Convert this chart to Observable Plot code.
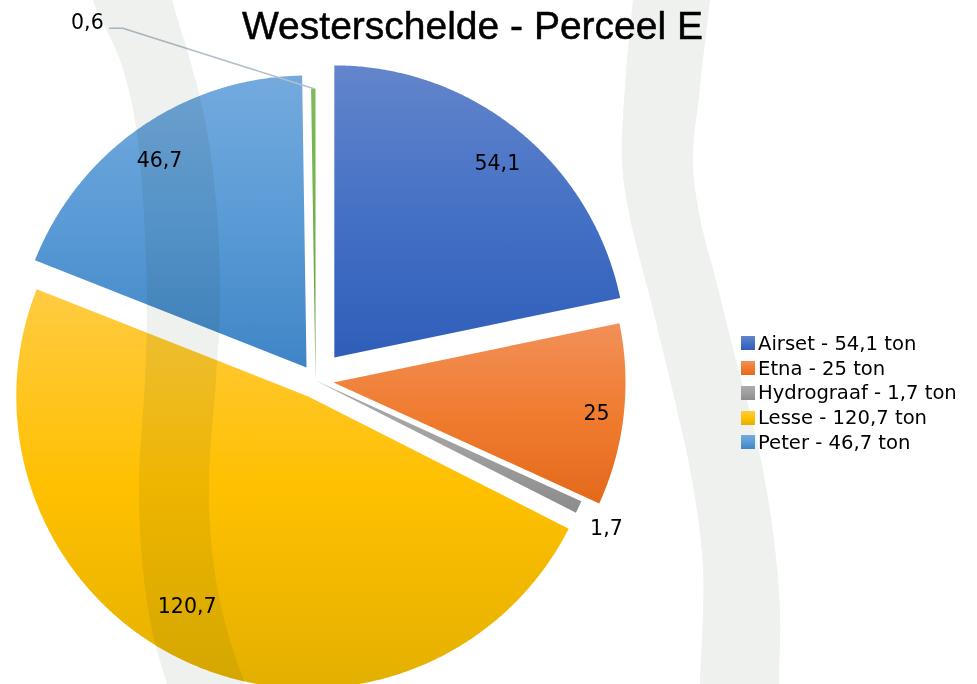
<!DOCTYPE html>
<html>
<head>
<meta charset="utf-8">
<script src="https://cdn.jsdelivr.net/npm/d3@7"></script>
<script src="https://cdn.jsdelivr.net/npm/@observablehq/plot@0.6"></script>
<style>
  html, body { margin: 0; padding: 0; background: #fff; }
  #wrap { position: relative; width: 977px; height: 684px; overflow: hidden; }
  #chart, #deco { position: absolute; left: 0; top: 0; }
  #deco { mix-blend-mode: multiply; pointer-events: none; }
  #title { position: absolute; left: 0; top: 6px; width: 945px; text-align: center;
           font-family: "Liberation Sans", Arial, sans-serif; font-size: 39px; line-height: 39px; color: #000;
           -webkit-text-stroke: 0.5px #000; }
  #legend { position: absolute; left: 741px; top: 331px; font-family: "DejaVu Sans", sans-serif;
            font-size: 19.6px; color: #000; }
  .row { display: flex; align-items: center; height: 24.75px; white-space: nowrap; }
  .sw { width: 14px; height: 14px; margin-right: 3px; flex: none; }
</style>
</head>
<body>
<div id="wrap">
  <div id="chart"></div>
  <svg id="deco" width="977" height="684"></svg>
  <div id="title"></div>
  <div id="legend"></div>
</div>
<script>
// ---- data ----
const title = "Westerschelde - Perceel E";
const categories = ["Airset", "Etna", "Hydrograaf", "Lesse", "Peter", "Overig"];
const values = [54.1, 25, 1.7, 120.7, 46.7, 0.6];
const legendCategories = ["Airset", "Etna", "Hydrograaf", "Lesse", "Peter"];
const unit = "ton";

// ---- styles / layout ----
const colorsTop    = ["#6385cb", "#f29058", "#ababab", "#ffcb42", "#74aade", "#80ba5c"];
const colorsMid    = ["#4571c5", "#f07c30", "#a0a0a0", "#ffc000", "#5a9bd6", "#70ad47"];
const colorsBottom = ["#2f5eb9", "#e4691b", "#8c8c8c", "#e3b000", "#3f85c6", "#5e9b37"];
const explode = [0.102, 0.062, 0, 0.06, 0.054, 0];
const labelRadius = [0.868, 0.907, 1.118, 0.829, 0.87, null];
const labelTurn = [0.9, 0.3, 1.3, 5.8, -0.7, 0]; // degrees
const leader = { r: 1.397, angle: -30.3, elbow: 0.045 };
const W = 977, H = 684, R = 292, cx = 315, cy = 380;

const fmt = v => String(v).replace(".", ",");
const rad = Math.PI / 180;
const polar = (r, a) => [r * Math.sin(a), -r * Math.cos(a)];

const arcs = d3.pie().sort(null).value(d => d)(values);

// slice outline points (in radius units), generated from the pie angles
const slicePoints = [];
const labels = [];
arcs.forEach((a, i) => {
  const mid = (a.startAngle + a.endAngle) / 2;
  const [ox, oy] = polar(explode[i], mid);
  const name = categories[i];
  const fill = `url(#slice-grad-${i})`;
  slicePoints.push({ name, fill, x: ox, y: oy });
  const n = Math.max(3, Math.ceil((a.endAngle - a.startAngle) / (0.4 * rad)));
  for (let k = 0; k <= n; k++) {
    const t = a.startAngle + (a.endAngle - a.startAngle) * k / n;
    const [px, py] = polar(1, t);
    slicePoints.push({ name, fill, x: ox + px, y: oy + py });
  }
  slicePoints.push({ name, fill, x: ox, y: oy });
  if (labelRadius[i] != null) {
    const [lx, ly] = polar(labelRadius[i], mid + labelTurn[i] * rad);
    labels.push({ text: fmt(values[i]), x: ox + lx, y: oy + ly });
  }
});

// leader line for the tiny slice
const small = arcs[5];
const smallMid = (small.startAngle + small.endAngle) / 2;
const [sx, sy] = polar(1, smallMid);
const [ex, ey] = polar(leader.r, leader.angle * rad);
const leaderPts = [
  { x: sx, y: sy },
  { x: ex + leader.elbow, y: ey },
  { x: ex, y: ey }
];
const leaderLabel = [{ text: fmt(values[5]), x: ex, y: ey }];

const chart = Plot.plot({
  width: W, height: H, margin: 0,
  x: { domain: [-cx / R, (W - cx) / R], range: [0, W], axis: null },
  y: { domain: [-cy / R, (H - cy) / R], range: [0, H], axis: null },
  color: { type: "identity" },
  style: { background: "transparent", overflow: "visible" },
  marks: [
    Plot.line(slicePoints, { x: "x", y: "y", z: "name", fill: "fill", stroke: null, curve: "linear" }),
    Plot.line(leaderPts, { x: "x", y: "y", stroke: "#b3bfcc", strokeWidth: 1.5, curve: "linear" }),
    Plot.text(labels, { x: "x", y: "y", text: "text", fontSize: 20.5, fontFamily: "DejaVu Sans", fill: "#000" }),
    Plot.text(leaderLabel, { x: "x", y: "y", text: "text", fontSize: 20.5, fontFamily: "DejaVu Sans", fill: "#000",
                             textAnchor: "end", dx: -6, dy: -6 })
  ]
});

// gradients for slices
const svg = d3.select(chart.tagName.toLowerCase() === "svg" ? chart : chart.querySelector("svg"));
const defs = svg.insert("defs", ":first-child");
categories.forEach((c, i) => {
  const g = defs.append("linearGradient").attr("id", `slice-grad-${i}`)
    .attr("x1", 0).attr("y1", 0).attr("x2", 0).attr("y2", 1);
  g.append("stop").attr("offset", 0).attr("stop-color", colorsTop[i]);
  g.append("stop").attr("offset", 0.5).attr("stop-color", colorsMid[i]);
  g.append("stop").attr("offset", 1).attr("stop-color", colorsBottom[i]);
});
document.getElementById("chart").appendChild(chart);

// decorative background bands (page styling, not data)
const bandL = [[93,0],[120,60],[135,120],[143,200],[147,300],[145,380],[139,480],[142,560],[152,630],[167,684],[172,700],
               [250,700],[245,684],[227,630],[213,560],[209,480],[216,380],[220,300],[216,200],[205,120],[190,60],[172,0],[170,-10],[92,-10]];
const bandR = [[633,0],[625,87],[622,162],[630,218],[652,306],[673,393],[692,480],[703,568],[700,684],[700,700],
               [780,700],[779,684],[780,611],[772,524],[756,437],[733,349],[717,284],[700,218],[693,162],[700,87],[710,0],[711,-10],[634,-10]];
const deco = d3.select("#deco");
const path = d3.line().curve(d3.curveCatmullRomClosed.alpha(0.5));
deco.append("path").attr("d", path(bandL)).attr("fill", "#eef1ed");
deco.append("path").attr("d", path(bandR)).attr("fill", "#eef1ed");

// title and legend
document.getElementById("title").textContent = title;
const legend = d3.select("#legend");
legendCategories.forEach(name => {
  const i = categories.indexOf(name);
  const row = legend.append("div").attr("class", "row");
  row.append("div").attr("class", "sw")
    .style("background", `linear-gradient(to bottom, ${colorsTop[i]}, ${colorsMid[i]}, ${colorsBottom[i]})`);
  row.append("span").text(`${name} - ${fmt(values[i])} ${unit}`);
});
</script>
</body>
</html>
